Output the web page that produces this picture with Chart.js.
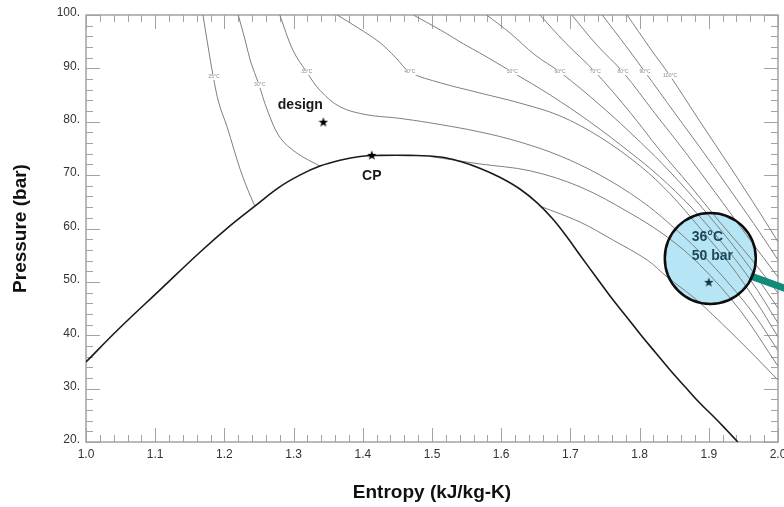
<!DOCTYPE html>
<html><head><meta charset="utf-8">
<script src="https://cdn.jsdelivr.net/npm/chart.js@4/dist/chart.umd.min.js"></script>
<style>html,body{margin:0;padding:0;background:#fff}canvas{display:block}</style>
</head><body>
<canvas id="c" width="784" height="507"></canvas>
<script>
// ---------- DATA ----------
const xTickLabels = ['1.0','1.1','1.2','1.3','1.4','1.5','1.6','1.7','1.8','1.9','2.0'];
const yTickLabels = ['20.','30.','40.','50.','60.','70.','80.','90.','100.'];

const domeS = [1.000,1.049,1.107,1.165,1.208,1.244,1.280,1.309,1.338,1.367,1.396,1.425,1.468,1.512,1.540,1.569,1.598,1.627,1.652,1.673,1.694,1.714,1.736,1.757,1.779,1.801,1.822,1.844,1.866,1.887,1.909,1.926,1.942];
const domeP = [35.0,41.4,48.5,55.6,60.5,64.2,67.8,70.0,71.7,72.8,73.5,73.7,73.7,73.4,72.6,71.3,69.6,67.4,64.8,62.0,58.6,55.0,51.1,47.4,43.8,40.2,36.9,33.5,30.3,27.3,24.5,22.2,20.0];

const t25LiqS = [1.169,1.176,1.184,1.192,1.204,1.214,1.223,1.234,1.244];
const t25LiqP = [100,94.4,88.4,83.5,79.0,74.7,71.0,67.2,64.2];
const t25VapS = [1.656,1.714,1.762,1.811,1.840,1.877,1.906,1.955,2.000];
const t25VapP = [64.2,61.2,57.8,54.1,50.9,47.2,43.8,37.6,31.6];
const t30LiqS = [1.220,1.230,1.238,1.249,1.262,1.280,1.305,1.338];
const t30LiqP = [100,95.3,91.2,87.3,82.2,77.1,74.1,71.7];
const t30VapS = [1.497,1.569,1.642,1.714,1.786,1.840,1.887,1.945,2.000];
const t30VapP = [73.5,72.1,70.8,67.8,62.9,58.4,53.2,44.7,34.2];
const t35S = [1.280,1.299,1.319,1.338,1.367,1.406,1.449,1.497,1.569,1.627,1.685,1.743,1.801,1.844,1.887,1.931,1.967,2.000];
const t35P = [100,93.4,89.3,85.9,82.8,81.3,80.7,79.8,78.1,76.2,73.6,70.0,65.3,60.8,55.6,49.4,43.6,37.1];
const t40S = [1.363,1.393,1.425,1.447,1.468,1.512,1.569,1.627,1.685,1.743,1.801,1.844,1.887,1.931,1.967,2.000];
const t40P = [100,97.6,94.8,92.1,89.3,87.3,85.4,83.5,81.1,77.1,71.7,66.5,60.1,53.2,46.6,39.7];
const t50S = [1.473,1.512,1.548,1.569,1.616,1.671,1.728,1.786,1.829,1.873,1.916,1.960,2.000];
const t50P = [100,97.2,94.4,92.9,89.3,85.0,80.0,74.3,69.7,64.2,57.8,50.4,42.3];
const t60S = [1.579,1.613,1.649,1.685,1.743,1.801,1.844,1.887,1.931,1.967,2.000];
const t60P = [100,96.6,92.5,89.3,83.1,76.2,70.6,64.4,57.5,51.3,45.1];
const t70S = [1.656,1.692,1.736,1.786,1.829,1.873,1.916,1.960,2.000];
const t70P = [100,94.9,89.3,81.8,74.7,68.0,61.2,54.5,47.9];
const t80S = [1.702,1.738,1.776,1.822,1.866,1.909,1.952,2.000];
const t80P = [100,94.4,89.3,81.6,74.3,66.8,59.2,50.9];
const t90S = [1.746,1.779,1.808,1.851,1.895,1.938,1.974,2.000];
const t90P = [100,94.4,89.3,81.6,73.8,65.9,59.2,54.1];
const t100S = [1.782,1.815,1.844,1.887,1.931,1.974,2.000];
const t100P = [100,93.8,88.6,80.1,71.5,62.9,57.5];

const isoLabelText = ['25°C','30°C','35°C','40°C','50°C','60°C','70°C','80°C','90°C','100°C'];
const isoLabelS = [1.185,1.251,1.319,1.468,1.616,1.685,1.736,1.776,1.808,1.844];
const isoLabelP = [88.4,86.9,89.3,89.3,89.3,89.3,89.3,89.3,89.3,88.6];

const markerName = ['design','CP','state'];
const markerS = [1.343,1.413,1.900];
const markerP = [80.0,73.8,50.0];
const stateText = ['36°C','50 bar'];

// ---------- CHART ----------
const FONT = "'Liberation Sans', Arial, Helvetica, sans-serif";
function pts(S,P){return S.map((s,i)=>({x:s,y:P[i]}));}
function starImg(size,color){
  const c=document.createElement('canvas');c.width=c.height=size;
  const g=c.getContext('2d');g.fillStyle=color;g.beginPath();
  for(let i=0;i<10;i++){const r=i%2?size*0.21:size*0.5;const a=-Math.PI/2+i*Math.PI/5;
    g.lineTo(size/2+r*Math.cos(a),size/2+r*Math.sin(a)+size*0.06);}
  g.closePath();g.fill();return c;
}
const iso = (S,P)=>({data:pts(S,P),showLine:true,pointRadius:0,borderColor:'#7f7f7f',borderWidth:1,tension:0.35,fill:false});
const isoSets = [[t25LiqS,t25LiqP],[t25VapS,t25VapP],[t30LiqS,t30LiqP],[t30VapS,t30VapP],[t35S,t35P],[t40S,t40P],[t50S,t50P],[t60S,t60P],[t70S,t70P],[t80S,t80P],[t90S,t90P],[t100S,t100P]];

const datasets = [];
datasets.push({data:[{x:markerS[0],y:markerP[0]}],pointStyle:starImg(10,'#000'),pointRadius:5,order:-3});
datasets.push({data:[{x:markerS[1],y:markerP[1]}],pointStyle:starImg(10,'#000'),pointRadius:5,order:-3});
datasets.push({data:[{x:markerS[2],y:markerP[2]}],pointStyle:starImg(10,'#183746'),pointRadius:5,order:-3});
datasets.push({data:pts(domeS,domeP),showLine:true,pointRadius:0,borderColor:'#1a1a1a',borderWidth:1.6,tension:0.4,order:-1});
isoSets.forEach(a=>datasets.push(iso(a[0],a[1])));

const CIRCLE_DX=1.5, CIRCLE_DY=-23.5, CIRCLE_R=45.5;
function circleCenter(chart){
  const {scales:{x,y}}=chart;
  return [x.getPixelForValue(markerS[2])+CIRCLE_DX, y.getPixelForValue(markerP[2])+CIRCLE_DY];
}

const frameTicks={id:'frameTicks',
  beforeDatasetsDraw(chart){
    const {ctx,chartArea:a,scales:{x,y}}=chart;
    ctx.save();ctx.strokeStyle='#a3a3a3';ctx.lineWidth=1;
    ctx.beginPath();
    for(let i=0;i<=50;i++){const px=Math.round(x.getPixelForValue(1+i*0.02))+0.5;const L=i%5===0?14:7;
      ctx.moveTo(px,a.bottom);ctx.lineTo(px,a.bottom-L);ctx.moveTo(px,a.top);ctx.lineTo(px,a.top+L);}
    for(let i=0;i<=40;i++){const py=Math.round(y.getPixelForValue(20+i*2))+0.5;const L=i%5===0?14:7;
      ctx.moveTo(a.left,py);ctx.lineTo(a.left+L,py);ctx.moveTo(a.right,py);ctx.lineTo(a.right-L,py);}
    ctx.stroke();
    ctx.lineWidth=1.5;ctx.strokeRect(a.left,a.top,a.right-a.left,a.bottom-a.top);
    const [ox,oy]=circleCenter(chart);
    ctx.fillStyle='#b6e5f5';ctx.beginPath();ctx.arc(ox,oy,CIRCLE_R,0,Math.PI*2);ctx.fill();
    ctx.restore();
  }};
const annot={id:'annot',
  afterDatasetsDraw(chart){
    const {ctx,scales:{x,y}}=chart;
    ctx.save();
    ctx.font='5px '+FONT;ctx.textAlign='center';ctx.textBaseline='middle';
    isoLabelText.forEach((t,i)=>{const px=x.getPixelForValue(isoLabelS[i]),py=y.getPixelForValue(isoLabelP[i]);
      const w=ctx.measureText(t).width;ctx.fillStyle='#fff';ctx.fillRect(px-w/2-1,py-3,w+2,6);
      ctx.fillStyle='#8a8a8a';ctx.fillText(t,px,py);});
    ctx.font='bold 14px '+FONT;ctx.fillStyle='#1a1a1a';
    const dx=x.getPixelForValue(markerS[0]),dy=y.getPixelForValue(markerP[0]);
    ctx.fillText(markerName[0],dx-23,dy-17);
    const cx=x.getPixelForValue(markerS[1]),cy=y.getPixelForValue(markerP[1]);
    ctx.fillText(markerName[1],cx,cy+21);
    const [ox,oy]=circleCenter(chart);
    ctx.strokeStyle='#128a7a';ctx.lineWidth=7;ctx.lineCap='butt';
    ctx.beginPath();ctx.moveTo(ox+40,oy+17.5);ctx.lineTo(chart.width+4,oy+31);ctx.stroke();
    ctx.strokeStyle='#0d0d0d';ctx.lineWidth=2.5;
    ctx.beginPath();ctx.arc(ox,oy,CIRCLE_R,0,Math.PI*2);ctx.stroke();
    ctx.fillStyle='#1d4859';ctx.textAlign='left';ctx.font='bold 14px '+FONT;
    ctx.fillText(stateText[0],ox-18.5,oy-21.5);
    ctx.fillText(stateText[1],ox-18.5,oy-2.5);
    ctx.restore();
  }};

new Chart(document.getElementById('c'),{
  type:'scatter',
  data:{datasets},
  options:{
    responsive:false,animation:false,events:[],
    layout:{autoPadding:false,padding:{top:15,right:6,left:0,bottom:0}},
    plugins:{legend:{display:false},tooltip:{enabled:false}},
    scales:{
      x:{type:'linear',min:1,max:2,grid:{display:false,drawTicks:false},border:{display:false},
        afterBuildTicks(s){s.ticks=xTickLabels.map(t=>({value:parseFloat(t)}));},
        ticks:{autoSkip:false,maxRotation:0,padding:5,color:'#333',font:{size:12,family:FONT},
          callback:(v,i)=>xTickLabels[i]},
        title:{display:true,text:'Entropy (kJ/kg-K)',color:'#111',font:{size:19,weight:'bold',family:FONT},padding:{top:0,bottom:3}},
        afterFit(s){s.height=65;s.paddingLeft=0;s.paddingRight=0;}},
      y:{type:'linear',min:20,max:100,grid:{display:false,drawTicks:false},border:{display:false},
        afterBuildTicks(s){s.ticks=yTickLabels.map(t=>({value:parseFloat(t)}));},
        ticks:{autoSkip:false,padding:6,labelOffset:-2,color:'#333',font:{size:12,family:FONT},
          callback:(v,i)=>yTickLabels[i]},
        title:{display:true,text:'Pressure (bar)',color:'#111',font:{size:19,weight:'bold',family:FONT},padding:{top:9,bottom:0}},
        afterFit(s){s.width=86;s.paddingTop=0;s.paddingBottom=0;}}
    }
  },
  plugins:[frameTicks,annot]
});
</script>
</body></html>
